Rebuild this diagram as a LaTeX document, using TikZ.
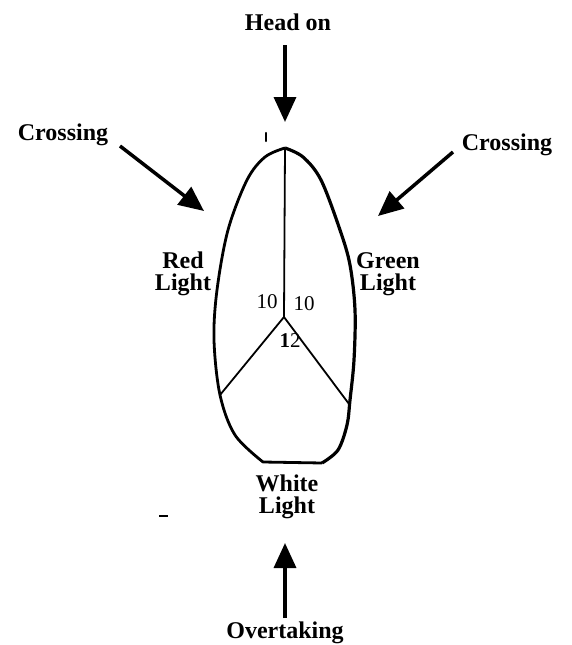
\documentclass[tikz,border=0pt]{standalone}
\usepackage{fontspec}
\setmainfont{Liberation Serif}
\usetikzlibrary{arrows.meta}
\begin{document}
\begin{tikzpicture}[x=1pt,y=-1pt,
  lbl/.style={font=\fontsize{24}{22}\selectfont\bfseries, align=center, inner sep=0pt},
  num/.style={font=\fontsize{21}{21}\selectfont, inner sep=0pt},
  bigarrow/.style={line width=3.5pt, -{Triangle[length=25pt,width=22pt]}},
  outline/.style={line width=2.8pt, line join=round},
  inner/.style={line width=1.8pt}]
\useasboundingbox (0,0) rectangle (571,645);
% labels
\node[lbl] (head) at (288,22) {Head on};
\node[lbl] (crossL) at (63,135) {Crossing};
\node[lbl] (crossR) at (507,145) {Crossing};
\node[lbl] (red) at (183,274) {Red\\Light};
\node[lbl] (green) at (388,274) {Green\\Light};
\node[lbl] (white) at (287,497) {White\\Light};
\node[lbl] (over) at (285,633) {Overtaking};
\node[num] (nL) at (267,302) {10};
\node[num] (nR) at (304,304) {10};
\node[num] (nB) at (290,341) {\textbf{1}2};
% key points
\coordinate (top) at (285,148);
\coordinate (j) at (284,317);
\coordinate (pl) at (220,395);
\coordinate (pr) at (349,404);
% outline
\draw[outline] plot[smooth, tension=0.55] coordinates {(285,148) (265,157) (247,180) (228,230) (217,290) (214,340) (220,395) (235,435) (263,462)}
  -- (322,463);
\draw[outline, line width=3.2pt] plot[smooth, tension=0.55] coordinates {(322,463) (338,450) (347,425) (350,400) (354,360) (355,310) (350,265) (340,230) (321,180) (303,157) (285,148)};
% inner lines
\draw[inner] (top) -- (j);
\draw[inner] (j) -- (pl);
\draw[inner] (j) -- (pr);
% arrows
\coordinate (hA) at (285,45);
\coordinate (hB) at (285,122);
\coordinate (lA) at (120,146);
\coordinate (lB) at (204,211);
\coordinate (rA) at (453,152);
\coordinate (rB) at (378,216);
\coordinate (oA) at (285,618);
\coordinate (oB) at (285,543);
\draw[bigarrow] (hA) -- (hB);
\draw[bigarrow] (lA) -- (lB);
\draw[bigarrow] (rA) -- (rB);
\draw[bigarrow] (oA) -- (oB);
% small marks
\coordinate (m1a) at (266,133);
\coordinate (m1b) at (266,141);
\draw[line width=2.2pt, line cap=round] (m1a) -- (m1b);
\coordinate (m2a) at (159,516);
\coordinate (m2b) at (168,516);
\draw[line width=1.5pt] (m2a) -- (m2b);
\end{tikzpicture}
\end{document}
